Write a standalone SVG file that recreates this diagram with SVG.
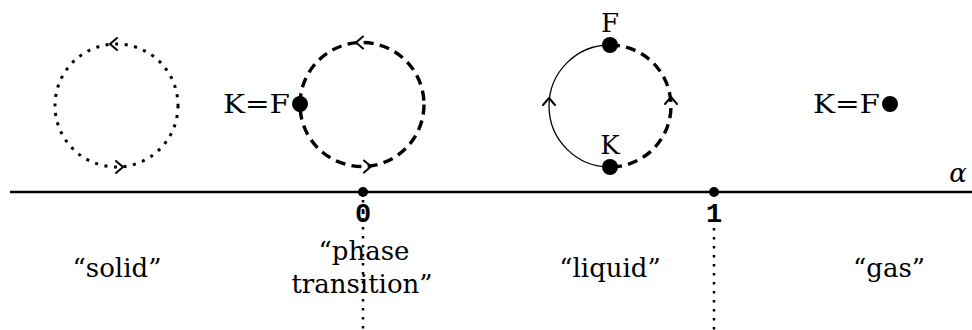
<svg xmlns="http://www.w3.org/2000/svg" width="972" height="330" viewBox="0 0 972 330">
  <style>
    text { fill: #000; }
    .txt { font-family: 'DejaVu Serif', 'Liberation Serif', serif; font-size: 26px; }
    .num { font-family: 'Liberation Mono', 'DejaVu Sans Mono', monospace; font-size: 27px; font-weight: bold; }
    .dotted { fill: none; stroke: #000; stroke-width: 3; stroke-dasharray: 3 6.6; }
    .dashed { fill: none; stroke: #000; stroke-width: 3.4; stroke-dasharray: 10 6.3; }
    .thin { fill: none; stroke: #000; stroke-width: 1.3; }
    .vdot { fill: none; stroke: #000; stroke-width: 2.5; stroke-dasharray: 2.5 6.5; }
    .head { fill: none; stroke: #000; stroke-width: 2; stroke-linecap: round; stroke-linejoin: round; }
  </style>
  <defs>
    <path id="chev" d="M-4,-6 L3,0 L-4,6" class="head"/>
  </defs>

  <g id="solid">
    <circle class="dotted" cx="116.5" cy="105.5" r="61.5"/>
    <use href="#chev" transform="translate(113,44) rotate(180)"/>
    <use href="#chev" transform="translate(120,167)"/>
  </g>

  <g id="phase-transition">
    <circle class="dashed" cx="362" cy="104.5" r="62"/>
    <use href="#chev" transform="translate(359,42.5) rotate(180)"/>
    <use href="#chev" transform="translate(368,166.5)"/>
    <circle cx="300" cy="104" r="8" fill="#000"/>
    <text class="txt" x="290" y="113" text-anchor="end" textLength="67" lengthAdjust="spacingAndGlyphs">K=F</text>
  </g>

  <g id="liquid">
    <path class="thin" d="M610,45 A61,61 0 0 0 610,167"/>
    <path class="dashed" d="M610,45 A61,61 0 0 1 610,167"/>
    <use href="#chev" transform="translate(549,101) rotate(-90)"/>
    <use href="#chev" transform="translate(671,100) rotate(-90)"/>
    <circle cx="610" cy="45" r="8" fill="#000"/>
    <circle cx="610" cy="167" r="8" fill="#000"/>
    <text class="txt" x="610" y="32" text-anchor="middle">F</text>
    <text class="txt" x="610" y="154" text-anchor="middle">K</text>
  </g>

  <g id="gas">
    <circle cx="890" cy="104" r="8" fill="#000"/>
    <text class="txt" x="880" y="113" text-anchor="end" textLength="67" lengthAdjust="spacingAndGlyphs">K=F</text>
  </g>

  <g id="axis">
    <line x1="10" y1="192" x2="972" y2="192" stroke="#000" stroke-width="2.6"/>
    <line class="vdot" x1="363" y1="200" x2="363" y2="330"/>
    <line class="vdot" x1="714" y1="228" x2="714" y2="330"/>
    <circle cx="363" cy="192" r="5" fill="#000"/>
    <circle cx="714" cy="192" r="5" fill="#000"/>
    <text class="num" x="363" y="222" text-anchor="middle">0</text>
    <text class="num" x="714" y="222" text-anchor="middle">1</text>
    <text class="txt" x="958" y="182" text-anchor="middle" font-style="italic">α</text>
  </g>

  <g id="labels">
    <text class="txt" x="117" y="277" text-anchor="middle">“solid”</text>
    <text class="txt" x="364" y="260" text-anchor="middle">“phase</text>
    <text class="txt" x="362" y="293" text-anchor="middle">transition”</text>
    <text class="txt" x="610" y="277" text-anchor="middle">“liquid”</text>
    <text class="txt" x="889" y="277" text-anchor="middle">“gas”</text>
  </g>
</svg>
